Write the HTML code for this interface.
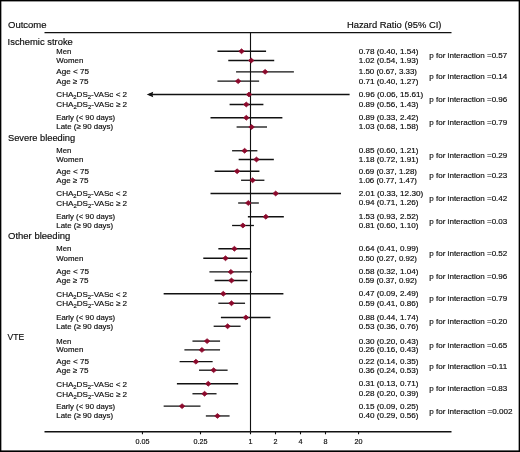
<!DOCTYPE html>
<html><head><meta charset="utf-8"><title>Forest plot</title>
<style>html,body{margin:0;padding:0;background:#fff}body{width:520px;height:452px;overflow:hidden}svg{display:block;will-change:transform;opacity:0.9999}</style></head>
<body>
<svg width="520" height="452" viewBox="0 0 520 452">
<rect x="0" y="0" width="520" height="452" fill="#fff"/>
<g fill="#000">
<rect x="0" y="0" width="520" height="1.4"/>
<rect x="0" y="0" width="1.35" height="452"/>
<rect x="518.65" y="0" width="1.35" height="452"/>
<rect x="0" y="450.4" width="520" height="1.6"/>
</g>
<g font-family="'Liberation Sans', sans-serif" fill="#0c0c0c" stroke="#0c0c0c" stroke-width="0.16">
<text x="8.00" y="28.10" font-size="9.35" textLength="38.60" lengthAdjust="spacingAndGlyphs">Outcome</text>
<text x="346.90" y="28.10" font-size="9.35" textLength="94.60" lengthAdjust="spacingAndGlyphs">Hazard Ratio (95% CI)</text>
<g stroke="#111" stroke-width="1.35" fill="none">
<line x1="44.5" y1="32.6" x2="451.5" y2="32.6"/>
<line x1="44.5" y1="431.7" x2="451.5" y2="431.7"/>
<line x1="250.5" y1="32.6" x2="250.5" y2="434.3" stroke-width="1.12"/>
<line x1="142.45" y1="431.7" x2="142.45" y2="434.3" stroke-width="1.1"/>
<line x1="200.50" y1="431.7" x2="200.50" y2="434.3" stroke-width="1.1"/>
<line x1="275.50" y1="431.7" x2="275.50" y2="434.3" stroke-width="1.1"/>
<line x1="300.50" y1="431.7" x2="300.50" y2="434.3" stroke-width="1.1"/>
<line x1="325.50" y1="431.7" x2="325.50" y2="434.3" stroke-width="1.1"/>
<line x1="358.55" y1="431.7" x2="358.55" y2="434.3" stroke-width="1.1"/>
</g>
<text x="142.45" y="443.70" font-size="7.2" text-anchor="middle">0.05</text>
<text x="200.50" y="443.70" font-size="7.2" text-anchor="middle">0.25</text>
<text x="250.50" y="443.70" font-size="7.2" text-anchor="middle">1</text>
<text x="275.50" y="443.70" font-size="7.2" text-anchor="middle">2</text>
<text x="300.50" y="443.70" font-size="7.2" text-anchor="middle">4</text>
<text x="325.50" y="443.70" font-size="7.2" text-anchor="middle">8</text>
<text x="358.55" y="443.70" font-size="7.2" text-anchor="middle">20</text>
<text x="7.60" y="44.80" font-size="9.35" textLength="65.20" lengthAdjust="spacingAndGlyphs">Ischemic stroke</text>
<text x="56.30" y="53.70" font-size="7.7" textLength="15.00" lengthAdjust="spacingAndGlyphs">Men</text>
<text x="358.80" y="53.70" font-size="7.8" textLength="59.60" lengthAdjust="spacingAndGlyphs">0.78 (0.40, 1.54)</text>
<line x1="217.45" y1="51.25" x2="266.07" y2="51.25" stroke="#111" stroke-width="1.3"/>
<path d="M238.79 51.25 L241.54 48.85 L244.29 51.25 L241.54 53.65 Z" fill="#8c092c" stroke="#8c092c" stroke-width="0.8" stroke-linejoin="round"/>
<text x="56.30" y="62.95" font-size="7.7" textLength="27.00" lengthAdjust="spacingAndGlyphs">Women</text>
<text x="358.80" y="62.95" font-size="7.8" textLength="59.60" lengthAdjust="spacingAndGlyphs">1.02 (0.54, 1.93)</text>
<line x1="228.28" y1="60.50" x2="274.22" y2="60.50" stroke="#111" stroke-width="1.3"/>
<path d="M248.46 60.50 L251.21 58.10 L253.96 60.50 L251.21 62.90 Z" fill="#8c092c" stroke="#8c092c" stroke-width="0.8" stroke-linejoin="round"/>
<text x="56.30" y="74.25" font-size="7.7" textLength="32.70" lengthAdjust="spacingAndGlyphs">Age &lt; 75</text>
<text x="358.80" y="74.25" font-size="7.8" textLength="58.20" lengthAdjust="spacingAndGlyphs">1.50 (0.67, 3.33)</text>
<line x1="236.06" y1="71.80" x2="293.89" y2="71.80" stroke="#111" stroke-width="1.3"/>
<path d="M262.37 71.80 L265.12 69.40 L267.87 71.80 L265.12 74.20 Z" fill="#8c092c" stroke="#8c092c" stroke-width="0.8" stroke-linejoin="round"/>
<text x="56.30" y="83.65" font-size="7.7" textLength="32.20" lengthAdjust="spacingAndGlyphs">Age ≥ 75</text>
<text x="358.80" y="83.65" font-size="7.8" textLength="59.60" lengthAdjust="spacingAndGlyphs">0.71 (0.40, 1.27)</text>
<line x1="217.45" y1="81.20" x2="259.12" y2="81.20" stroke="#111" stroke-width="1.3"/>
<path d="M235.40 81.20 L238.15 78.80 L240.90 81.20 L238.15 83.60 Z" fill="#8c092c" stroke="#8c092c" stroke-width="0.8" stroke-linejoin="round"/>
<text x="56.30" y="97.25" font-size="7.7" textLength="70.8" lengthAdjust="spacingAndGlyphs">CHA<tspan font-size="5.6" dy="2.0">2</tspan><tspan dy="-2.0">DS</tspan><tspan font-size="5.6" dy="2.0">2</tspan><tspan dy="-2.0">-VASc &lt; 2</tspan></text>
<text x="358.80" y="96.95" font-size="7.8" textLength="64.40" lengthAdjust="spacingAndGlyphs">0.96 (0.06, 15.61)</text>
<line x1="149.03" y1="94.50" x2="349.61" y2="94.50" stroke="#111" stroke-width="1.3"/>
<path d="M146.73 94.50 L153.23 91.80 L152.43 94.50 L153.23 97.20 Z" fill="#111" stroke="none"/>
<path d="M246.28 94.50 L249.03 92.10 L251.78 94.50 L249.03 96.90 Z" fill="#8c092c" stroke="#8c092c" stroke-width="0.8" stroke-linejoin="round"/>
<text x="56.30" y="107.25" font-size="7.7" textLength="70.8" lengthAdjust="spacingAndGlyphs">CHA<tspan font-size="5.6" dy="2.0">2</tspan><tspan dy="-2.0">DS</tspan><tspan font-size="5.6" dy="2.0">2</tspan><tspan dy="-2.0">-VASc ≥ 2</tspan></text>
<text x="358.80" y="106.95" font-size="7.8" textLength="59.60" lengthAdjust="spacingAndGlyphs">0.89 (0.56, 1.43)</text>
<line x1="229.59" y1="104.50" x2="263.40" y2="104.50" stroke="#111" stroke-width="1.3"/>
<path d="M243.55 104.50 L246.30 102.10 L249.05 104.50 L246.30 106.90 Z" fill="#8c092c" stroke="#8c092c" stroke-width="0.8" stroke-linejoin="round"/>
<text x="56.30" y="120.20" font-size="7.7" textLength="58.80" lengthAdjust="spacingAndGlyphs">Early (&lt; 90 days)</text>
<text x="358.80" y="120.20" font-size="7.8" textLength="59.60" lengthAdjust="spacingAndGlyphs">0.89 (0.33, 2.42)</text>
<line x1="210.51" y1="117.75" x2="282.38" y2="117.75" stroke="#111" stroke-width="1.3"/>
<path d="M243.55 117.75 L246.30 115.35 L249.05 117.75 L246.30 120.15 Z" fill="#8c092c" stroke="#8c092c" stroke-width="0.8" stroke-linejoin="round"/>
<text x="56.30" y="129.45" font-size="7.7" textLength="56.70" lengthAdjust="spacingAndGlyphs">Late (≥ 90 days)</text>
<text x="358.80" y="129.45" font-size="7.8" textLength="59.60" lengthAdjust="spacingAndGlyphs">1.03 (0.68, 1.58)</text>
<line x1="236.59" y1="127.00" x2="267.00" y2="127.00" stroke="#111" stroke-width="1.3"/>
<path d="M248.82 127.00 L251.57 124.60 L254.32 127.00 L251.57 129.40 Z" fill="#8c092c" stroke="#8c092c" stroke-width="0.8" stroke-linejoin="round"/>
<text x="429.30" y="58.42" font-size="7.7" textLength="78.00" lengthAdjust="spacingAndGlyphs">p for interaction =0.57</text>
<text x="429.30" y="79.05" font-size="7.7" textLength="78.00" lengthAdjust="spacingAndGlyphs">p for interaction =0.14</text>
<text x="429.30" y="102.05" font-size="7.7" textLength="78.00" lengthAdjust="spacingAndGlyphs">p for interaction =0.96</text>
<text x="429.30" y="124.92" font-size="7.7" textLength="78.00" lengthAdjust="spacingAndGlyphs">p for interaction =0.79</text>
<text x="8.00" y="141.30" font-size="9.35" textLength="67.20" lengthAdjust="spacingAndGlyphs">Severe bleeding</text>
<text x="56.30" y="153.20" font-size="7.7" textLength="15.00" lengthAdjust="spacingAndGlyphs">Men</text>
<text x="358.80" y="153.20" font-size="7.8" textLength="59.60" lengthAdjust="spacingAndGlyphs">0.85 (0.60, 1.21)</text>
<line x1="232.08" y1="150.75" x2="257.38" y2="150.75" stroke="#111" stroke-width="1.3"/>
<path d="M241.89 150.75 L244.64 148.35 L247.39 150.75 L244.64 153.15 Z" fill="#8c092c" stroke="#8c092c" stroke-width="0.8" stroke-linejoin="round"/>
<text x="56.30" y="161.95" font-size="7.7" textLength="27.00" lengthAdjust="spacingAndGlyphs">Women</text>
<text x="358.80" y="161.95" font-size="7.8" textLength="59.60" lengthAdjust="spacingAndGlyphs">1.18 (0.72, 1.91)</text>
<line x1="238.65" y1="159.50" x2="273.84" y2="159.50" stroke="#111" stroke-width="1.3"/>
<path d="M253.72 159.50 L256.47 157.10 L259.22 159.50 L256.47 161.90 Z" fill="#8c092c" stroke="#8c092c" stroke-width="0.8" stroke-linejoin="round"/>
<text x="56.30" y="173.70" font-size="7.7" textLength="32.70" lengthAdjust="spacingAndGlyphs">Age &lt; 75</text>
<text x="358.80" y="173.70" font-size="7.8" textLength="58.20" lengthAdjust="spacingAndGlyphs">0.69 (0.37, 1.28)</text>
<line x1="214.64" y1="171.25" x2="259.40" y2="171.25" stroke="#111" stroke-width="1.3"/>
<path d="M234.37 171.25 L237.12 168.85 L239.87 171.25 L237.12 173.65 Z" fill="#8c092c" stroke="#8c092c" stroke-width="0.8" stroke-linejoin="round"/>
<text x="56.30" y="182.70" font-size="7.7" textLength="32.20" lengthAdjust="spacingAndGlyphs">Age ≥ 75</text>
<text x="358.80" y="182.70" font-size="7.8" textLength="58.20" lengthAdjust="spacingAndGlyphs">1.06 (0.77, 1.47)</text>
<line x1="241.07" y1="180.25" x2="264.40" y2="180.25" stroke="#111" stroke-width="1.3"/>
<path d="M249.85 180.25 L252.60 177.85 L255.35 180.25 L252.60 182.65 Z" fill="#8c092c" stroke="#8c092c" stroke-width="0.8" stroke-linejoin="round"/>
<text x="56.30" y="196.25" font-size="7.7" textLength="70.8" lengthAdjust="spacingAndGlyphs">CHA<tspan font-size="5.6" dy="2.0">2</tspan><tspan dy="-2.0">DS</tspan><tspan font-size="5.6" dy="2.0">2</tspan><tspan dy="-2.0">-VASc &lt; 2</tspan></text>
<text x="358.80" y="195.95" font-size="7.8" textLength="64.40" lengthAdjust="spacingAndGlyphs">2.01 (0.33, 12.30)</text>
<line x1="210.51" y1="193.50" x2="341.01" y2="193.50" stroke="#111" stroke-width="1.3"/>
<path d="M272.93 193.50 L275.68 191.10 L278.43 193.50 L275.68 195.90 Z" fill="#8c092c" stroke="#8c092c" stroke-width="0.8" stroke-linejoin="round"/>
<text x="56.30" y="205.75" font-size="7.7" textLength="70.8" lengthAdjust="spacingAndGlyphs">CHA<tspan font-size="5.6" dy="2.0">2</tspan><tspan dy="-2.0">DS</tspan><tspan font-size="5.6" dy="2.0">2</tspan><tspan dy="-2.0">-VASc ≥ 2</tspan></text>
<text x="358.80" y="205.45" font-size="7.8" textLength="59.60" lengthAdjust="spacingAndGlyphs">0.94 (0.71, 1.26)</text>
<line x1="238.15" y1="203.00" x2="258.84" y2="203.00" stroke="#111" stroke-width="1.3"/>
<path d="M245.52 203.00 L248.27 200.60 L251.02 203.00 L248.27 205.40 Z" fill="#8c092c" stroke="#8c092c" stroke-width="0.8" stroke-linejoin="round"/>
<text x="56.30" y="219.20" font-size="7.7" textLength="58.80" lengthAdjust="spacingAndGlyphs">Early (&lt; 90 days)</text>
<text x="358.80" y="219.20" font-size="7.8" textLength="59.60" lengthAdjust="spacingAndGlyphs">1.53 (0.93, 2.52)</text>
<line x1="247.88" y1="216.75" x2="283.84" y2="216.75" stroke="#111" stroke-width="1.3"/>
<path d="M263.09 216.75 L265.84 214.35 L268.59 216.75 L265.84 219.15 Z" fill="#8c092c" stroke="#8c092c" stroke-width="0.8" stroke-linejoin="round"/>
<text x="56.30" y="227.95" font-size="7.7" textLength="56.70" lengthAdjust="spacingAndGlyphs">Late (≥ 90 days)</text>
<text x="358.80" y="227.95" font-size="7.8" textLength="59.60" lengthAdjust="spacingAndGlyphs">0.81 (0.60, 1.10)</text>
<line x1="232.08" y1="225.50" x2="253.94" y2="225.50" stroke="#111" stroke-width="1.3"/>
<path d="M240.15 225.50 L242.90 223.10 L245.65 225.50 L242.90 227.90 Z" fill="#8c092c" stroke="#8c092c" stroke-width="0.8" stroke-linejoin="round"/>
<text x="429.30" y="157.68" font-size="7.7" textLength="78.00" lengthAdjust="spacingAndGlyphs">p for interaction =0.29</text>
<text x="429.30" y="178.30" font-size="7.7" textLength="78.00" lengthAdjust="spacingAndGlyphs">p for interaction =0.23</text>
<text x="429.30" y="200.80" font-size="7.7" textLength="78.00" lengthAdjust="spacingAndGlyphs">p for interaction =0.42</text>
<text x="429.30" y="223.68" font-size="7.7" textLength="78.00" lengthAdjust="spacingAndGlyphs">p for interaction =0.03</text>
<text x="8.00" y="239.40" font-size="9.35" textLength="62.30" lengthAdjust="spacingAndGlyphs">Other bleeding</text>
<text x="56.30" y="251.20" font-size="7.7" textLength="15.00" lengthAdjust="spacingAndGlyphs">Men</text>
<text x="358.80" y="251.20" font-size="7.8" textLength="59.60" lengthAdjust="spacingAndGlyphs">0.64 (0.41, 0.99)</text>
<line x1="218.34" y1="248.75" x2="250.14" y2="248.75" stroke="#111" stroke-width="1.3"/>
<path d="M231.65 248.75 L234.40 246.35 L237.15 248.75 L234.40 251.15 Z" fill="#8c092c" stroke="#8c092c" stroke-width="0.8" stroke-linejoin="round"/>
<text x="56.30" y="260.70" font-size="7.7" textLength="27.00" lengthAdjust="spacingAndGlyphs">Women</text>
<text x="358.80" y="260.70" font-size="7.8" textLength="58.20" lengthAdjust="spacingAndGlyphs">0.50 (0.27, 0.92)</text>
<line x1="203.28" y1="258.25" x2="247.49" y2="258.25" stroke="#111" stroke-width="1.3"/>
<path d="M222.75 258.25 L225.50 255.85 L228.25 258.25 L225.50 260.65 Z" fill="#8c092c" stroke="#8c092c" stroke-width="0.8" stroke-linejoin="round"/>
<text x="56.30" y="274.35" font-size="7.7" textLength="32.70" lengthAdjust="spacingAndGlyphs">Age &lt; 75</text>
<text x="358.80" y="274.35" font-size="7.8" textLength="59.60" lengthAdjust="spacingAndGlyphs">0.58 (0.32, 1.04)</text>
<line x1="209.40" y1="271.90" x2="251.91" y2="271.90" stroke="#111" stroke-width="1.3"/>
<path d="M228.10 271.90 L230.85 269.50 L233.60 271.90 L230.85 274.30 Z" fill="#8c092c" stroke="#8c092c" stroke-width="0.8" stroke-linejoin="round"/>
<text x="56.30" y="282.95" font-size="7.7" textLength="32.20" lengthAdjust="spacingAndGlyphs">Age ≥ 75</text>
<text x="358.80" y="282.95" font-size="7.8" textLength="58.20" lengthAdjust="spacingAndGlyphs">0.59 (0.37, 0.92)</text>
<line x1="214.64" y1="280.50" x2="247.49" y2="280.50" stroke="#111" stroke-width="1.3"/>
<path d="M228.72 280.50 L231.47 278.10 L234.22 280.50 L231.47 282.90 Z" fill="#8c092c" stroke="#8c092c" stroke-width="0.8" stroke-linejoin="round"/>
<text x="56.30" y="296.50" font-size="7.7" textLength="70.8" lengthAdjust="spacingAndGlyphs">CHA<tspan font-size="5.6" dy="2.0">2</tspan><tspan dy="-2.0">DS</tspan><tspan font-size="5.6" dy="2.0">2</tspan><tspan dy="-2.0">-VASc &lt; 2</tspan></text>
<text x="358.80" y="296.20" font-size="7.8" textLength="59.60" lengthAdjust="spacingAndGlyphs">0.47 (0.09, 2.49)</text>
<line x1="163.65" y1="293.75" x2="283.40" y2="293.75" stroke="#111" stroke-width="1.3"/>
<path d="M220.52 293.75 L223.27 291.35 L226.02 293.75 L223.27 296.15 Z" fill="#8c092c" stroke="#8c092c" stroke-width="0.8" stroke-linejoin="round"/>
<text x="56.30" y="306.00" font-size="7.7" textLength="70.8" lengthAdjust="spacingAndGlyphs">CHA<tspan font-size="5.6" dy="2.0">2</tspan><tspan dy="-2.0">DS</tspan><tspan font-size="5.6" dy="2.0">2</tspan><tspan dy="-2.0">-VASc ≥ 2</tspan></text>
<text x="358.80" y="305.70" font-size="7.8" textLength="59.60" lengthAdjust="spacingAndGlyphs">0.59 (0.41, 0.86)</text>
<line x1="218.34" y1="303.25" x2="245.06" y2="303.25" stroke="#111" stroke-width="1.3"/>
<path d="M228.72 303.25 L231.47 300.85 L234.22 303.25 L231.47 305.65 Z" fill="#8c092c" stroke="#8c092c" stroke-width="0.8" stroke-linejoin="round"/>
<text x="56.30" y="319.95" font-size="7.7" textLength="58.80" lengthAdjust="spacingAndGlyphs">Early (&lt; 90 days)</text>
<text x="358.80" y="319.95" font-size="7.8" textLength="59.60" lengthAdjust="spacingAndGlyphs">0.88 (0.44, 1.74)</text>
<line x1="220.89" y1="317.50" x2="270.48" y2="317.50" stroke="#111" stroke-width="1.3"/>
<path d="M243.14 317.50 L245.89 315.10 L248.64 317.50 L245.89 319.90 Z" fill="#8c092c" stroke="#8c092c" stroke-width="0.8" stroke-linejoin="round"/>
<text x="56.30" y="328.70" font-size="7.7" textLength="56.70" lengthAdjust="spacingAndGlyphs">Late (≥ 90 days)</text>
<text x="358.80" y="328.70" font-size="7.8" textLength="59.60" lengthAdjust="spacingAndGlyphs">0.53 (0.36, 0.76)</text>
<line x1="213.65" y1="326.25" x2="240.60" y2="326.25" stroke="#111" stroke-width="1.3"/>
<path d="M224.85 326.25 L227.60 323.85 L230.35 326.25 L227.60 328.65 Z" fill="#8c092c" stroke="#8c092c" stroke-width="0.8" stroke-linejoin="round"/>
<text x="429.30" y="256.05" font-size="7.7" textLength="78.00" lengthAdjust="spacingAndGlyphs">p for interaction =0.52</text>
<text x="429.30" y="278.75" font-size="7.7" textLength="78.00" lengthAdjust="spacingAndGlyphs">p for interaction =0.96</text>
<text x="429.30" y="301.05" font-size="7.7" textLength="78.00" lengthAdjust="spacingAndGlyphs">p for interaction =0.79</text>
<text x="429.30" y="324.43" font-size="7.7" textLength="78.00" lengthAdjust="spacingAndGlyphs">p for interaction =0.20</text>
<text x="7.60" y="340.00" font-size="9.35" textLength="16.60" lengthAdjust="spacingAndGlyphs">VTE</text>
<text x="56.30" y="343.55" font-size="7.7" textLength="15.00" lengthAdjust="spacingAndGlyphs">Men</text>
<text x="358.80" y="343.55" font-size="7.8" textLength="59.60" lengthAdjust="spacingAndGlyphs">0.30 (0.20, 0.43)</text>
<line x1="192.45" y1="341.10" x2="220.06" y2="341.10" stroke="#111" stroke-width="1.3"/>
<path d="M204.33 341.10 L207.08 338.70 L209.83 341.10 L207.08 343.50 Z" fill="#8c092c" stroke="#8c092c" stroke-width="0.8" stroke-linejoin="round"/>
<text x="56.30" y="352.40" font-size="7.7" textLength="27.00" lengthAdjust="spacingAndGlyphs">Women</text>
<text x="358.80" y="352.40" font-size="7.8" textLength="59.60" lengthAdjust="spacingAndGlyphs">0.26 (0.16, 0.43)</text>
<line x1="184.40" y1="349.95" x2="220.06" y2="349.95" stroke="#111" stroke-width="1.3"/>
<path d="M199.16 349.95 L201.91 347.55 L204.66 349.95 L201.91 352.35 Z" fill="#8c092c" stroke="#8c092c" stroke-width="0.8" stroke-linejoin="round"/>
<text x="56.30" y="364.15" font-size="7.7" textLength="32.70" lengthAdjust="spacingAndGlyphs">Age &lt; 75</text>
<text x="358.80" y="364.15" font-size="7.8" textLength="59.60" lengthAdjust="spacingAndGlyphs">0.22 (0.14, 0.35)</text>
<line x1="179.59" y1="361.70" x2="212.64" y2="361.70" stroke="#111" stroke-width="1.3"/>
<path d="M193.14 361.70 L195.89 359.30 L198.64 361.70 L195.89 364.10 Z" fill="#8c092c" stroke="#8c092c" stroke-width="0.8" stroke-linejoin="round"/>
<text x="56.30" y="372.65" font-size="7.7" textLength="32.20" lengthAdjust="spacingAndGlyphs">Age ≥ 75</text>
<text x="358.80" y="372.65" font-size="7.8" textLength="59.60" lengthAdjust="spacingAndGlyphs">0.36 (0.24, 0.53)</text>
<line x1="199.03" y1="370.20" x2="227.60" y2="370.20" stroke="#111" stroke-width="1.3"/>
<path d="M210.90 370.20 L213.65 367.80 L216.40 370.20 L213.65 372.60 Z" fill="#8c092c" stroke="#8c092c" stroke-width="0.8" stroke-linejoin="round"/>
<text x="56.30" y="386.50" font-size="7.7" textLength="70.8" lengthAdjust="spacingAndGlyphs">CHA<tspan font-size="5.6" dy="2.0">2</tspan><tspan dy="-2.0">DS</tspan><tspan font-size="5.6" dy="2.0">2</tspan><tspan dy="-2.0">-VASc &lt; 2</tspan></text>
<text x="358.80" y="386.20" font-size="7.8" textLength="59.60" lengthAdjust="spacingAndGlyphs">0.31 (0.13, 0.71)</text>
<line x1="176.91" y1="383.75" x2="238.15" y2="383.75" stroke="#111" stroke-width="1.3"/>
<path d="M205.51 383.75 L208.26 381.35 L211.01 383.75 L208.26 386.15 Z" fill="#8c092c" stroke="#8c092c" stroke-width="0.8" stroke-linejoin="round"/>
<text x="56.30" y="396.50" font-size="7.7" textLength="70.8" lengthAdjust="spacingAndGlyphs">CHA<tspan font-size="5.6" dy="2.0">2</tspan><tspan dy="-2.0">DS</tspan><tspan font-size="5.6" dy="2.0">2</tspan><tspan dy="-2.0">-VASc ≥ 2</tspan></text>
<text x="358.80" y="396.20" font-size="7.8" textLength="59.60" lengthAdjust="spacingAndGlyphs">0.28 (0.20, 0.39)</text>
<line x1="192.45" y1="393.75" x2="216.54" y2="393.75" stroke="#111" stroke-width="1.3"/>
<path d="M201.84 393.75 L204.59 391.35 L207.34 393.75 L204.59 396.15 Z" fill="#8c092c" stroke="#8c092c" stroke-width="0.8" stroke-linejoin="round"/>
<text x="56.30" y="408.60" font-size="7.7" textLength="58.80" lengthAdjust="spacingAndGlyphs">Early (&lt; 90 days)</text>
<text x="358.80" y="408.60" font-size="7.8" textLength="59.60" lengthAdjust="spacingAndGlyphs">0.15 (0.09, 0.25)</text>
<line x1="163.65" y1="406.15" x2="200.50" y2="406.15" stroke="#111" stroke-width="1.3"/>
<path d="M179.33 406.15 L182.08 403.75 L184.83 406.15 L182.08 408.55 Z" fill="#8c092c" stroke="#8c092c" stroke-width="0.8" stroke-linejoin="round"/>
<text x="56.30" y="418.40" font-size="7.7" textLength="56.70" lengthAdjust="spacingAndGlyphs">Late (≥ 90 days)</text>
<text x="358.80" y="418.40" font-size="7.8" textLength="59.60" lengthAdjust="spacingAndGlyphs">0.40 (0.29, 0.56)</text>
<line x1="205.85" y1="415.95" x2="229.59" y2="415.95" stroke="#111" stroke-width="1.3"/>
<path d="M214.70 415.95 L217.45 413.55 L220.20 415.95 L217.45 418.35 Z" fill="#8c092c" stroke="#8c092c" stroke-width="0.8" stroke-linejoin="round"/>
<text x="429.30" y="348.07" font-size="7.7" textLength="78.00" lengthAdjust="spacingAndGlyphs">p for interaction =0.65</text>
<text x="429.30" y="368.50" font-size="7.7" textLength="78.00" lengthAdjust="spacingAndGlyphs">p for interaction =0.11</text>
<text x="429.30" y="391.30" font-size="7.7" textLength="78.00" lengthAdjust="spacingAndGlyphs">p for interaction =0.83</text>
<text x="429.30" y="413.60" font-size="7.7" textLength="83.20" lengthAdjust="spacingAndGlyphs">p for interaction =0.002</text>
</g></svg>
</body></html>
